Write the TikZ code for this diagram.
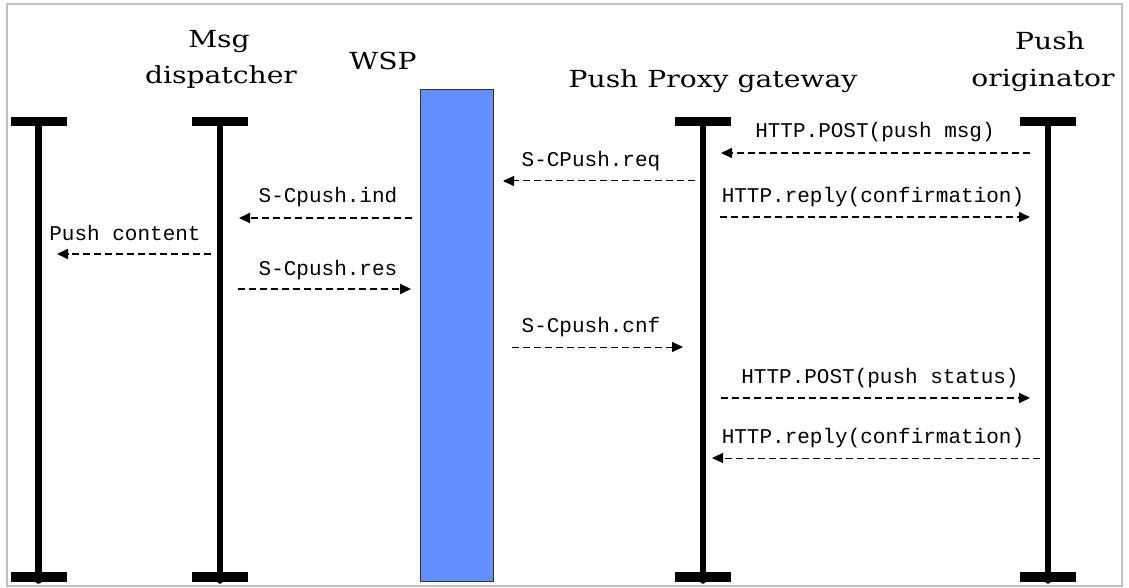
\documentclass[tikz,border=0pt]{standalone}
\usepackage{fontspec}
\setmainfont{DejaVu Serif}
\newfontfamily\ttlfont{DejaVu Serif}[FakeStretch=1.2]
\newfontfamily\msgfont{Liberation Mono}
\usetikzlibrary{arrows.meta}
\definecolor{wspblue}{RGB}{99,142,255}
\definecolor{framegray}{RGB}{192,192,192}
\begin{document}
\begin{tikzpicture}[x=1pt,y=-1pt,
  title/.style={font=\ttlfont\fontsize{23.5}{27}\selectfont, inner sep=0pt, anchor=base},
  msglabel/.style={font=\msgfont\fontsize{21}{24}\selectfont, inner sep=0pt, anchor=base},
  msg/.style={dash pattern=on 7pt off 4pt, line width=1.8pt, -{Triangle[length=11pt,width=10pt]}},
  thinmsg/.style={msg, line width=1pt},
  bar/.style={fill=black, minimum width=56pt, minimum height=9pt, inner sep=0pt, draw=none},
  stem/.style={line width=6.5pt, line cap=round}
]
\useasboundingbox (0,0) rectangle (1129,588);
\draw[framegray, line width=2pt] (7,4) rectangle (1122,586);

% WSP box
\node[draw=black!80, line width=1pt, fill=wspblue, minimum width=73pt, minimum height=491pt, inner sep=0pt] (wsp) at (456.5,335.5) {};

% lifelines
\foreach \n/\x in {l1/38.5, l2/220, l3/703, l4/1048}{
  \node[bar] (\n top) at (\x,121.5) {};
  \node[bar, minimum height=10pt] (\n bot) at (\x,577) {};
  \coordinate (\n end) at (\x,580.5);
  \draw[stem] (\n top.center) -- (\n end);
}

% titles
\node[title] (tmsg) at (219,48) {Msg};
\node[title] (tdisp) at (221,84) {dispatcher};
\node[title] (twsp) at (383,70) {WSP};
\node[title] (tppg) at (713,88) {Push Proxy gateway};
\node[title] (tpush) at (1050,50) {Push};
\node[title] (torig) at (1043,87) {originator};

% message end points
\coordinate (m1a) at (1030,153); \coordinate (m1b) at (721,153);
\coordinate (m2a) at (695,181);  \coordinate (m2b) at (503,181);
\coordinate (m3a) at (720,217);  \coordinate (m3b) at (1030,217);
\coordinate (m4a) at (412,218);  \coordinate (m4b) at (239,218);
\coordinate (m5a) at (211,254);  \coordinate (m5b) at (57,254);
\coordinate (m6a) at (238,289);  \coordinate (m6b) at (411,289);
\coordinate (m7a) at (512,347);  \coordinate (m7b) at (683,347);
\coordinate (m8a) at (721,398);  \coordinate (m8b) at (1030,398);
\coordinate (m9a) at (1040,458); \coordinate (m9b) at (712,458);

\draw[msg] (m1a) -- (m1b);
\draw[thinmsg] (m2a) -- (m2b);
\draw[msg, line width=1.4pt] (m3a) -- (m3b);
\draw[msg] (m4a) -- (m4b);
\draw[msg] (m5a) -- (m5b);
\draw[msg] (m6a) -- (m6b);
\draw[thinmsg] (m7a) -- (m7b);
\draw[msg] (m8a) -- (m8b);
\draw[thinmsg] (m9a) -- (m9b);

% labels
\node[msglabel] (lb1) at (875,138) {HTTP.POST(push msg)};
\node[msglabel] (lb2) at (591,167) {S-CPush.req};
\node[msglabel] (lb3) at (873,202) {HTTP.reply(confirmation)};
\node[msglabel] (lb4) at (328,203) {S-Cpush.ind};
\node[msglabel] (lb5) at (125,240) {Push content};
\node[msglabel] (lb6) at (328,275) {S-Cpush.res};
\node[msglabel] (lb7) at (591,332) {S-Cpush.cnf};
\node[msglabel] (lb8) at (880,383) {HTTP.POST(push status)};
\node[msglabel] (lb9) at (873,443) {HTTP.reply(confirmation)};
\end{tikzpicture}
\end{document}
